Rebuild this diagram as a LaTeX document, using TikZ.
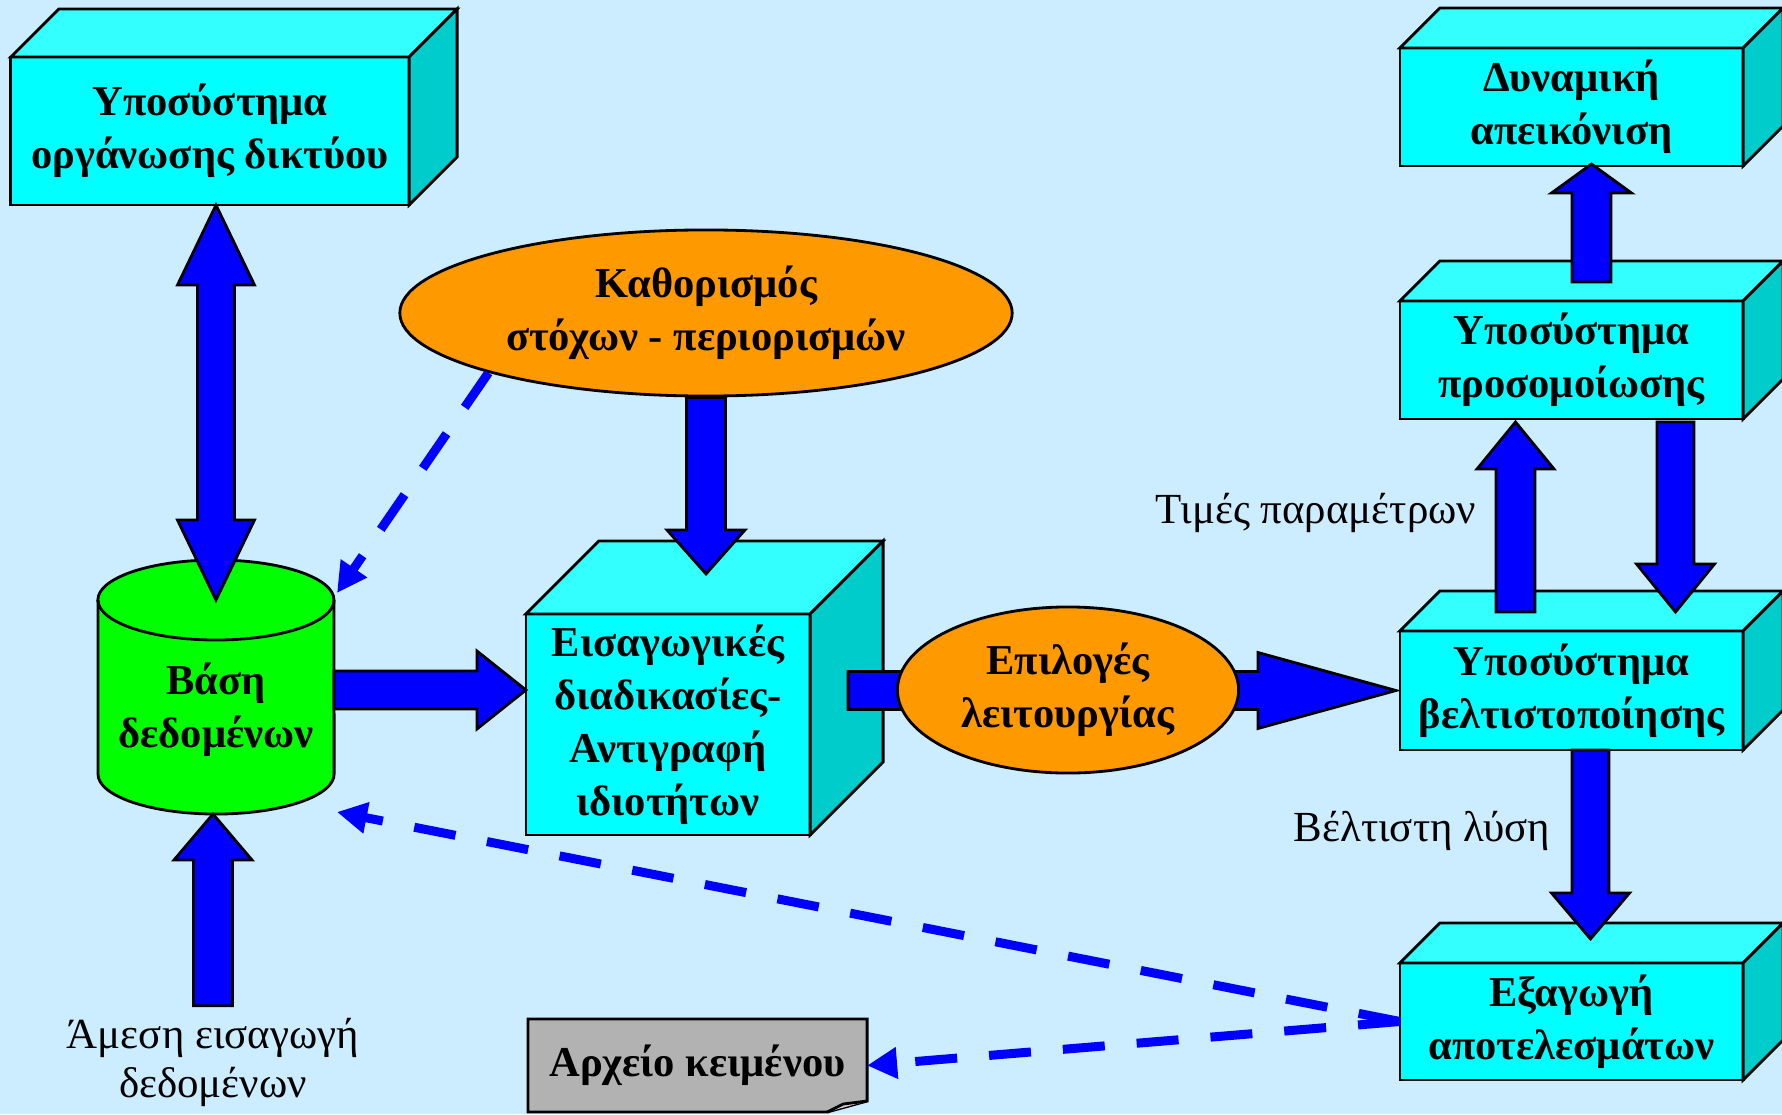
\documentclass[tikz,border=0pt]{standalone}
\usepackage{fontspec}
\setmainfont{Liberation Serif}
\usetikzlibrary{calc}
\usetikzlibrary{arrows.meta,shapes.geometric}

\definecolor{bgblue}{RGB}{204,236,255}
\definecolor{cubefront}{RGB}{0,255,255}
\definecolor{cubetop}{RGB}{51,255,255}
\definecolor{cubeside}{RGB}{0,204,204}
\definecolor{dbgreen}{RGB}{0,255,0}
\definecolor{goalorange}{RGB}{255,153,0}
\definecolor{arrblue}{RGB}{0,0,255}
\definecolor{docgray}{RGB}{178,178,178}

\tikzset{
  boldtext/.style={font=\fontsize{12.1}{15.1}\selectfont\bfseries},
  cube/.style={draw, line width=0.8pt, fill=cubefront, inner sep=0pt, outer sep=0pt,
    align=center, boldtext},
  topface/.style={draw, line width=0.8pt, fill=cubetop},
  sideface/.style={draw, line width=0.8pt, fill=cubeside},
  goal/.style={ellipse, draw, line width=0.8pt, fill=goalorange, inner sep=0pt,
    align=center, boldtext},
  dbshape/.style={draw, line width=0.8pt, fill=dbgreen},
  dbtext/.style={align=center, boldtext},
  docbox/.style={fill=docgray, inner sep=0pt, outer sep=0pt, minimum width=3.39cm,
    minimum height=0.93cm, boldtext},
  plain/.style={align=center, font=\fontsize{12.2}{14}\selectfont},
  bigarrow/.style={draw, line width=0.8pt, fill=arrblue},
  dasharrow/.style={draw=arrblue, line width=0.09cm, dash pattern=on 0.42cm off 0.32cm,
    -{Triangle[length=0.3cm,width=0.3cm]}},
}

\newcommand{\cubefaces}[2]{%
  \draw[topface] (#1.north west) -- ++(#2,#2) -- ($(#1.north east)+(#2,#2)$) -- (#1.north east) -- cycle;
  \draw[sideface] (#1.north east) -- ++(#2,#2) -- ($(#1.south east)+(#2,#2)$) -- (#1.south east) -- cycle;}

\newcommand{\fatarrow}[5]{%
  \path (#1) coordinate (fa-s) (#2) coordinate (fa-e);
  \path ($(fa-e)!#5*0.01cm!(fa-s)$) coordinate (fa-h);
  \draw[bigarrow] ($(fa-s)!#3*0.01cm!90:(fa-e)$) -- ($(fa-h)!#3*0.01cm!90:(fa-e)$)
    -- ($(fa-h)!#4*0.01cm!90:(fa-e)$) -- (fa-e) -- ($(fa-h)!#4*0.01cm!-90:(fa-e)$)
    -- ($(fa-h)!#3*0.01cm!-90:(fa-e)$) -- ($(fa-s)!#3*0.01cm!-90:(fa-e)$) -- cycle;}

\newcommand{\fatdarrow}[5]{%
  \path (#1) coordinate (fa-s) (#2) coordinate (fa-e);
  \path ($(fa-s)!#5*0.01cm!(fa-e)$) coordinate (fa-h) ($(fa-e)!#5*0.01cm!(fa-s)$) coordinate (fa-g);
  \draw[bigarrow] (fa-s) -- ($(fa-h)!#4*0.01cm!90:(fa-e)$) -- ($(fa-h)!#3*0.01cm!90:(fa-e)$)
    -- ($(fa-g)!#3*0.01cm!90:(fa-e)$) -- ($(fa-g)!#4*0.01cm!90:(fa-e)$) -- (fa-e)
    -- ($(fa-g)!#4*0.01cm!-90:(fa-e)$) -- ($(fa-g)!#3*0.01cm!-90:(fa-e)$)
    -- ($(fa-h)!#3*0.01cm!-90:(fa-e)$) -- ($(fa-h)!#4*0.01cm!-90:(fa-e)$) -- cycle;}

\begin{document}
\begin{tikzpicture}[x=0.01cm,y=0.01cm]
\useasboundingbox (0,0) rectangle (1782,1114);
\fill[bgblue] (0,0) rectangle (1782,1114);

\node[cube, minimum width=3.98cm, minimum height=1.48cm] (org) at (210,983) {Υποσύστημα\\οργάνωσης δικτύου};
\cubefaces{org}{48}

\node[goal, minimum width=6.12cm, minimum height=1.66cm] (goals) at (706,801) {Καθορισμός\\στόχων - περιορισμών};

\coordinate (dbtop) at (216,514);
\coordinate (dbbot) at (216,340);
\coordinate (dbE) at (334,424);
\draw[dbshape] ($(dbtop)+(-118,0)$) -- ($(dbbot)+(-118,0)$)
  arc[start angle=180, end angle=360, x radius=1.18cm, y radius=0.4cm]
  -- ($(dbtop)+(118,0)$) arc[start angle=0, end angle=180, x radius=1.18cm, y radius=0.4cm] -- cycle;
\draw[line width=0.8pt] ($(dbtop)+(-118,0)$) arc[start angle=180, end angle=360, x radius=1.18cm, y radius=0.4cm];
\node[dbtext] (db) at (216,404) {Βάση\\δεδομένων};

\node[cube, minimum width=2.84cm, minimum height=2.21cm] (intro) at (668,389.5) {Εισαγωγικές\\διαδικασίες-\\Αντιγραφή\\ιδιοτήτων};
\cubefaces{intro}{73}

\node[cube, minimum width=3.43cm, minimum height=1.18cm] (dyn) at (1571.5,1007) {Δυναμική\\απεικόνιση};
\cubefaces{dyn}{40}
\node[cube, minimum width=3.43cm, minimum height=1.18cm] (sim) at (1571.5,754) {Υποσύστημα\\προσομοίωσης};
\cubefaces{sim}{40}
\node[cube, minimum width=3.43cm, minimum height=1.19cm] (optim) at (1571.5,423.5) {Υποσύστημα\\βελτιστοποίησης};
\cubefaces{optim}{40}
\node[cube, minimum width=3.43cm, minimum height=1.17cm] (export) at (1571.5,92.5) {Εξαγωγή\\αποτελεσμάτων};
\cubefaces{export}{40}

\fatarrow{$(intro.east |- optim.west)+(38,0)$}{$(optim.west)+(-4,0)$}{19}{38}{138}
\node[goal, minimum width=3.41cm, minimum height=1.66cm] (opts) at (1068,424) {Επιλογές\\λειτουργίας};

\node[docbox] (doc) at (697.5,48.5) {Αρχείο κειμένου};
\fill[bgblue] ($(doc.south east)+(0,11)$) -- (doc.south east) -- ($(doc.south east)+(-40,0)$) -- cycle;
\draw[line width=0.8pt] (doc.south west) -- (doc.north west) -- (doc.north east)
  -- ($(doc.south east)+(0,11)$) -- ($(doc.south east)+(-40,0)$) -- cycle;
\draw[line width=0.8pt, fill=docgray!60] ($(doc.south east)+(0,11)$) -- ($(doc.south east)+(-24,8)$) -- ($(doc.south east)+(-40,0)$);

\node[plain] (params) at (1316,601.5) {Τιμές παραμέτρων};
\node[plain] (bestsol) at (1422,283.5) {Βέλτιστη λύση};
\node[plain] (amesi) at (213,51.5) {Άμεση εισαγωγή\\δεδομένων};

\fatdarrow{org.south -| dbtop}{dbtop}{18.5}{38.5}{80}
\fatarrow{dbE}{dbE -| intro.west}{19}{39}{49}
\fatarrow{amesi.north}{$(amesi.north |- dbbot)+(0,-40)$}{19.5}{39}{46}
\fatarrow{goals.south}{$(goals.south |- intro.north)+(0,40)$}{19.5}{39}{44}
\fatarrow{$(sim.north)+(20,19)$}{$(dyn.south)+(20,2)$}{19.5}{40}{29}
\fatarrow{$(optim.north)+(-56,19)$}{$(sim.south)+(-56,-3)$}{19.5}{38.5}{47}
\fatarrow{$(sim.south)+(104,-3)$}{$(optim.north)+(104,19)$}{18.5}{39}{48}
\fatarrow{$(optim.south)+(19,0)$}{$(export.north)+(19,24)$}{18.5}{39}{46}

\draw[dasharrow] (goals.south west) -- ($(dbtop)+(121,7)$);
\draw[dasharrow] (export.west) -- ($(dbbot)+(121,-38)$);
\draw[dasharrow] (export.west) -- (doc.east);
\end{tikzpicture}
\end{document}
